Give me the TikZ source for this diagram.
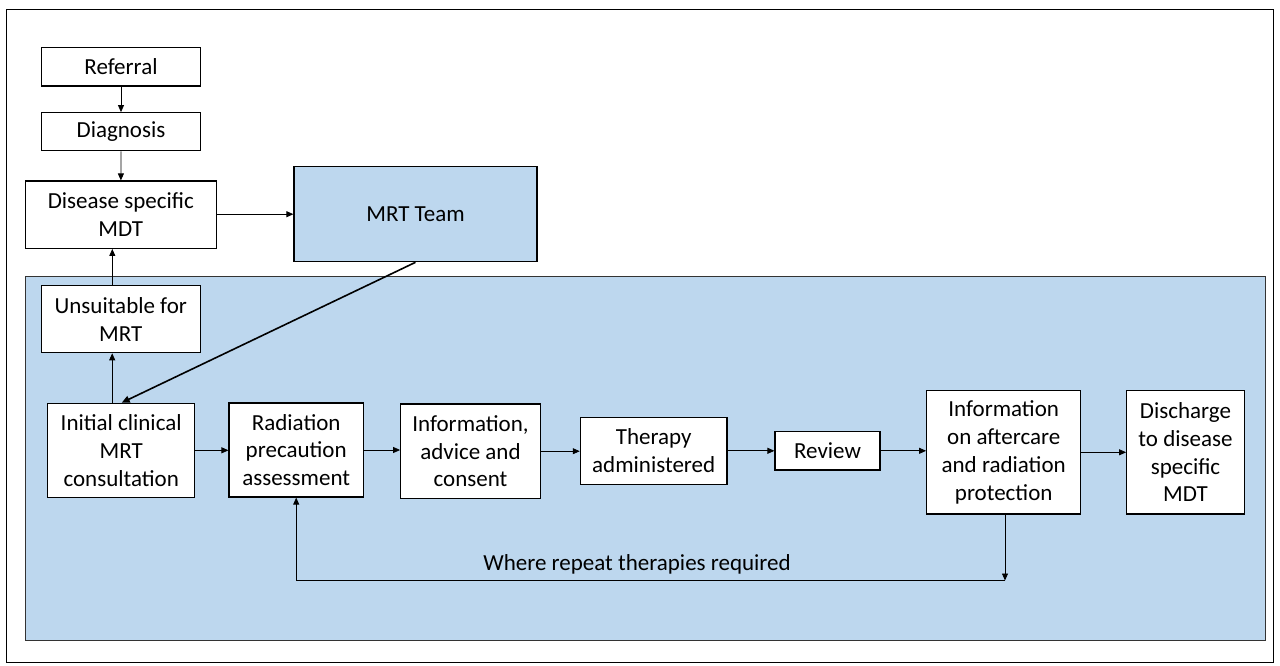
\documentclass[tikz,border=0pt]{standalone}
\usepackage{fontspec}
\setmainfont{Carlito}
\usetikzlibrary{arrows.meta}
\definecolor{bluefill}{HTML}{BDD7EE}
\begin{document}
\begin{tikzpicture}[x=1pt,y=-1pt,
  box/.style={draw=black, line width=1.2pt, fill=white, align=center, inner sep=0pt, font=\fontsize{23}{27.8}\selectfont},
  arr/.style={-{Triangle[width=6pt,length=7pt]}, line width=0.8pt},
  lbl/.style={font=\fontsize{23}{27.8}\selectfont, inner sep=0pt}]
\useasboundingbox (0,0) rectangle (1280,665);
\node[draw=black, line width=1pt, minimum width=1267pt, minimum height=653pt, anchor=north west, inner sep=0pt] (frame) at (6,9) {};
\node[draw=black!80, fill=bluefill, line width=1.2pt, minimum width=1240pt, minimum height=364pt, anchor=north west, inner sep=0pt] (region) at (25,276) {};

\node[box, minimum width=159pt, minimum height=38.7pt] (ref) at (121,66.7) {Referral};
\node[box, minimum width=159pt, minimum height=38pt] (diag) at (121,131.7) {Diagnosis};
\node[box, minimum width=191pt, minimum height=67.3pt] (mdt) at (120.8,214.7) {Disease specific\\MDT};
\node[box, fill=bluefill, minimum width=243pt, minimum height=95pt] (mrt) at (415.5,214.2) {MRT Team};
\node[box, minimum width=159pt, minimum height=67pt] (unsuit) at (120.8,319.2) {Unsuitable for\\MRT};
\node[box, minimum width=147pt, minimum height=94pt] (init) at (121.2,450.3) {Initial clinical\\MRT\\consultation};
\node[box, minimum width=134.3pt, minimum height=94pt] (rad) at (296.2,450) {Radiation\\precaution\\assessment};
\node[box, minimum width=139.6pt, minimum height=94.3pt] (info) at (470.5,451.2) {Information,\\advice and\\consent};
\node[box, minimum width=146.7pt, minimum height=66.7pt] (ther) at (653.7,450.8) {Therapy\\administered};
\node[box, minimum width=105pt, minimum height=38.3pt] (rev) at (827.5,450.8) {Review};
\node[box, minimum width=154pt, minimum height=123.3pt] (after) at (1003.7,452.3) {Information\\on aftercare\\and radiation\\protection};
\node[box, minimum width=117.6pt, minimum height=123.3pt] (dis) at (1185.5,452.3) {Discharge\\to disease\\specific\\MDT};

\draw[arr] (ref) -- (diag);
\draw[arr] (diag) -- (mdt);
\draw[arr] (mdt.east |- mrt.west) -- (mrt.west);
\draw[arr] ([xshift=-8.5pt]unsuit.north) -- ([xshift=-8.5pt]unsuit.north |- mdt.south);
\draw[arr] ([xshift=-9pt]init.north) -- ([xshift=-9pt]init.north |- unsuit.south);
\draw[-{Triangle[width=7pt,length=8pt]}, line width=1.6pt] (mrt.south) -- ([xshift=0.5pt]init.north);

\draw[arr] (init.east) -- (init.east -| rad.west);
\draw[arr] (rad.east) -- (rad.east -| info.west);
\draw[arr] (info.east) -- (info.east -| ther.west);
\draw[arr] (ther.east) -- (ther.east -| rev.west);
\draw[arr] (rev.east) -- (rev.east -| after.west);
\draw[arr] (after.east) -- (after.east -| dis.west);

\coordinate (loopR) at (1005,580.5);
\coordinate (loopL) at (296.2,580.5);
\draw[arr] (after.south -| loopR) -- (loopR);
\draw[arr] (loopR) -- (loopL) -- (rad.south);
\node[lbl, anchor=base] (where) at (637,570.7) {Where repeat therapies required};
\end{tikzpicture}
\end{document}
